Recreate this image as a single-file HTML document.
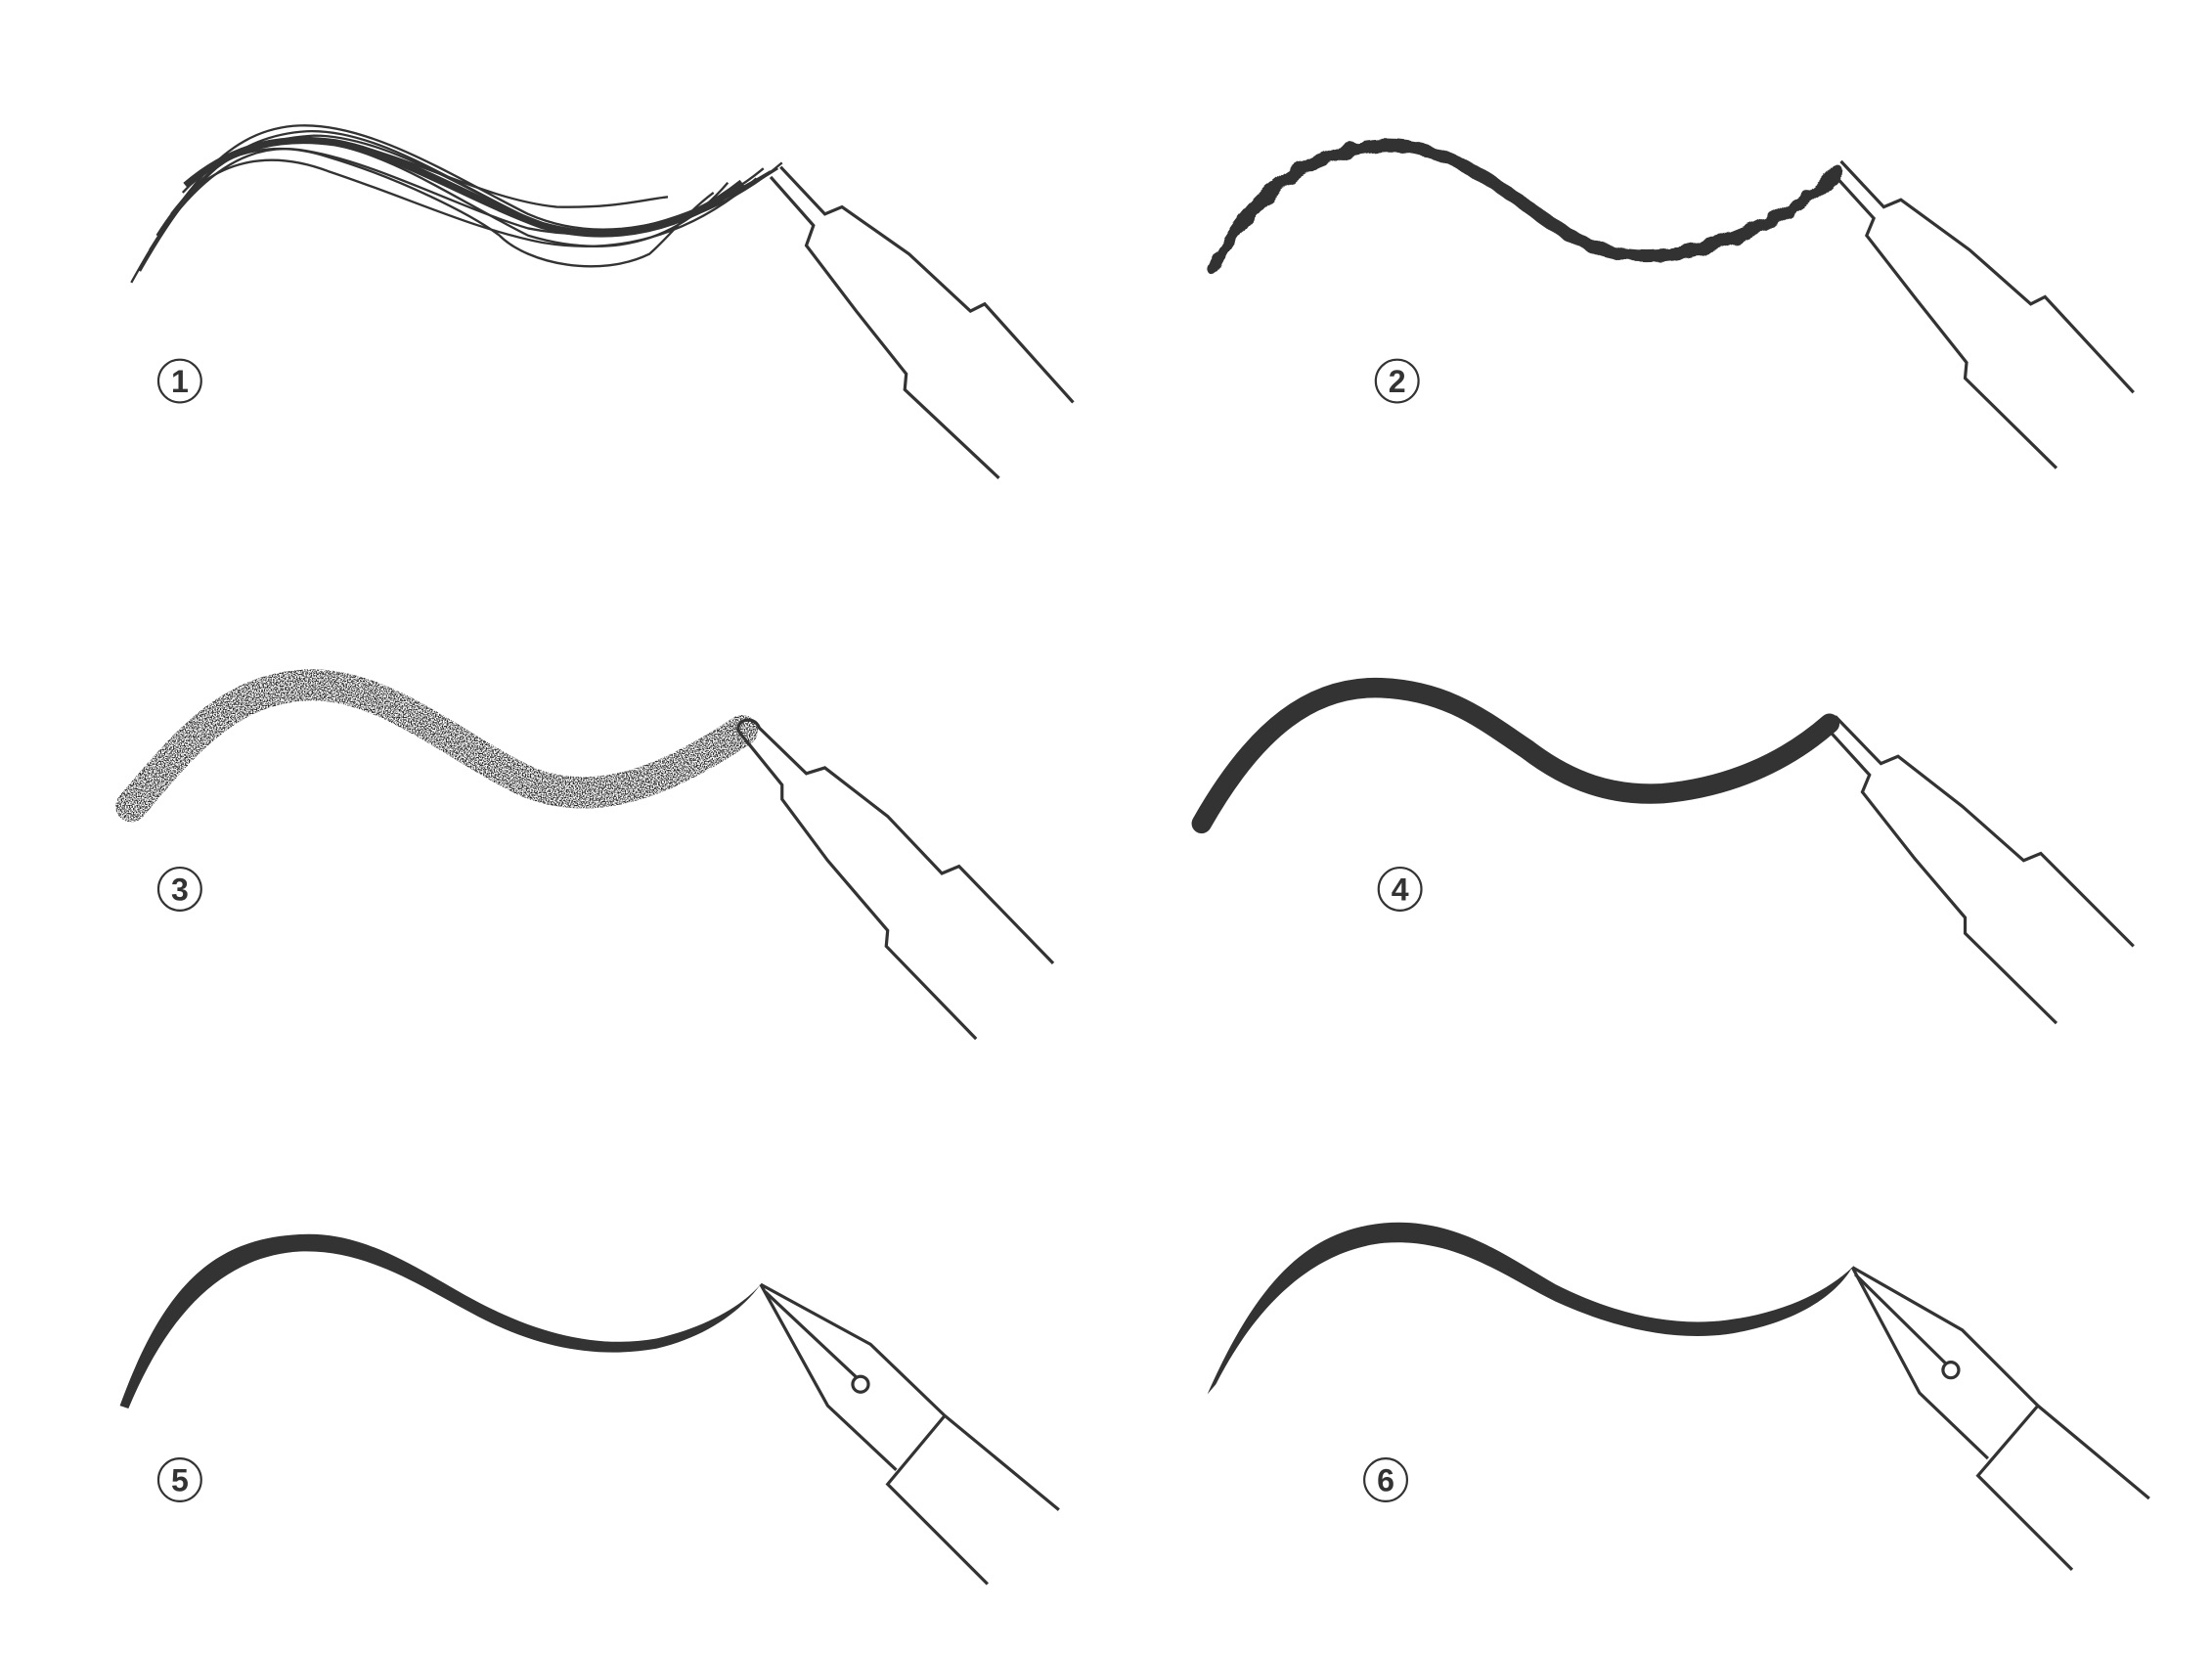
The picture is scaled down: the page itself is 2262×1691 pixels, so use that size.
<!DOCTYPE html>
<html><head><meta charset="utf-8"><style>html,body{margin:0;padding:0;background:#fff}svg{display:block}</style></head>
<body>
<svg width="2262" height="1691" viewBox="0 0 1550 1159" preserveAspectRatio="none" xmlns="http://www.w3.org/2000/svg">
<defs>
<filter id="spray" x="-10%" y="-20%" width="120%" height="140%">
<feTurbulence type="fractalNoise" baseFrequency="1.1" numOctaves="2" seed="3" result="n"/>
<feColorMatrix in="n" type="matrix" values="0 0 0 0 0  0 0 0 0 0  0 0 0 0 0  0 0 0 5 -2.1" result="m"/>
<feComposite in="SourceGraphic" in2="m" operator="in"/>
</filter>
<filter id="rough"><feTurbulence type="fractalNoise" baseFrequency="0.08" numOctaves="2" seed="5"/><feDisplacementMap in="SourceGraphic" scale="6"/></filter>
</defs>
<g fill="none" stroke="#333" stroke-linejoin="miter">
<g stroke-width="1.6">
<path d="M92,198 C130,130 160,90 210,88 C260,86 320,125 370,150 C420,172 480,160 545,118"/>
<path d="M98,190 C135,125 165,95 215,92 C265,90 320,130 375,155 C430,175 490,150 540,120"/>
<path d="M110,165 C140,118 170,98 220,95 C270,95 330,135 380,158 C430,175 500,155 548,114"/>
<path d="M115,160 C145,110 180,95 225,100 C270,105 320,140 370,165 C420,180 470,175 510,128"/>
<path d="M128,135 C160,100 200,100 230,110 C280,125 330,150 350,165 C370,185 420,195 455,178 C470,165 480,150 500,135"/>
<path d="M130,128 C160,102 190,96 240,100 C290,110 340,140 390,145 C430,146 450,140 468,138"/>
<path d="M120,150 C150,110 190,105 230,120 C290,140 330,160 380,170 C440,180 490,160 530,125"/>
<path d="M105,175 C140,120 175,100 210,105 C260,112 320,145 370,160 C430,172 490,155 535,118"/>
</g>
<path stroke-width="5" d="M130,130 C165,100 200,95 235,100 C280,108 330,140 380,158 C430,172 480,160 520,128"/>
<g stroke-width="2.2">
<path d="M547,117 L578,150 L590,145 L637,178 L680,218 L690,213 L752,282"/>
<path d="M540,124 L570,158 L565,172 L600,218 L635,262 L634,273 L700,335"/>
</g>
<path filter="url(#rough)" stroke-width="9" stroke-linecap="round" d="M850,188 C880,130 920,105 970,102 C1020,100 1060,140 1100,165 C1140,188 1180,182 1230,160 C1255,148 1275,135 1287,120"/>
<g stroke-width="2.2">
<path d="M1290,113 L1320,145 L1332,140 L1380,175 L1423,213 L1433,208 L1495,275"/>
<path d="M1283,120 L1313,153 L1308,165 L1343,210 L1378,254 L1377,265 L1441,328"/>
</g>
<path filter="url(#spray)" stroke="#222" stroke-width="22" stroke-linecap="round" d="M92,565 C130,520 160,483 215,480 C270,478 320,525 370,548 C420,568 470,545 520,512"/>
<g stroke-width="2.2">
<path d="M518,513 C514,505 528,500 532,510 L565,542 L578,538 L622,572 L660,612 L672,607 L738,675"/>
<path d="M518,513 L548,550 L548,560 L580,603 L622,652 L621,663 L684,728"/>
</g>
<path stroke-width="14" stroke-linecap="round" d="M842,577 C880,510 920,480 968,482 C1015,484 1040,505 1070,525 C1100,548 1130,558 1165,556 C1210,552 1250,535 1282,507"/>
<g stroke-width="2.2">
<path d="M1286,502 L1318,535 L1330,530 L1375,565 L1418,603 L1430,598 L1495,663"/>
<path d="M1279,509 L1310,543 L1305,555 L1342,602 L1377,643 L1377,654 L1441,717"/>
</g>
<path fill="#333" stroke="none" d="M84,985 C115,900 150,868 210,865 C260,862 300,895 340,915 C380,935 420,945 460,938 C495,930 520,915 533,900 C520,918 495,937 460,945 C420,952 380,945 340,925 C300,905 260,875 210,877 C160,880 120,915 90,987 Z"/>
<g stroke-width="2.2">
<path d="M533,900 L610,942 L662,992 L742,1058"/>
<path d="M533,900 L580,985 L628,1030"/>
<path d="M536,905 L600,965"/>
<circle cx="603" cy="970" r="5.5" fill="#fff"/>
<path d="M662,992 L622,1040 L692,1110"/>
</g>
<path fill="#333" stroke="none" d="M846,977 C880,900 915,862 970,857 C1020,853 1055,880 1090,900 C1130,920 1170,930 1210,925 C1250,920 1280,905 1298,888 C1285,910 1255,928 1210,935 C1170,940 1130,930 1090,912 C1055,895 1020,867 970,871 C920,876 880,915 852,970 Z"/>
<g stroke-width="2.2">
<path d="M1298,888 L1375,932 L1428,985 L1506,1050"/>
<path d="M1298,888 L1345,976 L1393,1022"/>
<path d="M1300,893 L1363,955"/>
<circle cx="1367" cy="960" r="5.5" fill="#fff"/>
<path d="M1428,985 L1386,1034 L1452,1100"/>
</g>
</g>
<g fill="#fff" stroke="#333" stroke-width="1.5">
<circle cx="126" cy="267" r="15"/><circle cx="979" cy="267" r="15"/>
<circle cx="126" cy="623" r="15"/><circle cx="981" cy="623" r="15"/>
<circle cx="126" cy="1037" r="15"/><circle cx="971" cy="1037" r="15"/>
</g>
<g font-family="Liberation Sans, sans-serif" font-weight="bold" font-size="22" fill="#333" text-anchor="middle">
<text x="126" y="275">1</text><text x="979" y="275">2</text>
<text x="126" y="631">3</text><text x="981" y="631">4</text>
<text x="126" y="1045">5</text><text x="971" y="1045">6</text>
</g>
</svg>
</body></html>
